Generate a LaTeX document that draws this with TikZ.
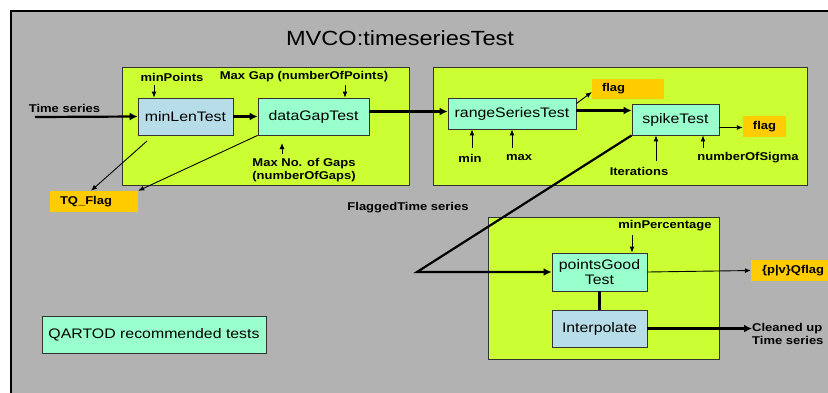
\documentclass[tikz,border=0pt]{standalone}
\usepackage{fontspec}
\setmainfont{Liberation Sans}[FakeStretch=1.15]
\usepackage{xcolor}
\usetikzlibrary{arrows.meta}
\definecolor{panelgray}{HTML}{B2B2B2}
\definecolor{limebox}{HTML}{CCFF33}
\definecolor{testgreen}{HTML}{99FFCC}
\definecolor{testblue}{HTML}{B7DEE8}
\definecolor{flagorange}{HTML}{FFCC00}

\begin{document}
\begin{tikzpicture}[x=1pt,y=-1pt,
    group/.style={draw=black!80,fill=limebox,line width=0.8pt},
    test/.style={draw=black!80,fill=testgreen,line width=0.8pt,inner sep=0pt,align=center,
        font=\fontsize{13.8}{15}\selectfont},
    prep/.style={test,fill=testblue},
    flagbox/.style={fill=flagorange,inner sep=0pt,font=\bfseries\fontsize{11.3}{13}\selectfont},
    lbl/.style={inner sep=0pt,align=center,font=\bfseries\fontsize{11.3}{13}\selectfont},
    arr/.style={-{Latex[length=6pt,width=5pt]},line width=0.9pt},
    flow/.style={-{Latex[length=8pt,width=8pt]},line width=2.2pt}]
        \useasboundingbox (0,0) rectangle (828,392);
        \draw[line width=2.5pt,fill=panelgray] (11,11) rectangle (845,405);

        \node[font=\fontsize{20.5}{24}\selectfont] (title) at (400,38) {MVCO:timeseriesTest};

        \draw[group] (122,67) rectangle (409,185);
        \draw[group] (433,67) rectangle (807,185);
        \draw[group] (488,217) rectangle (719,359);

        \node[prep,minimum width=95pt,minimum height=37pt] (minlen) at (185.5,116.5) {minLenTest};
        \node[test,minimum width=111pt,minimum height=37pt] (datagap) at (313.5,116.5) {dataGapTest};
        \node[test,minimum width=128pt,minimum height=31pt] (range) at (512,113.5) {rangeSeriesTest};
        \node[test,minimum width=87pt,minimum height=31pt] (spike) at (675.5,119.5) {spikeTest};
        \node[test,minimum width=95pt,minimum height=38pt] (pgood) at (599.5,272) {pointsGood\\Test};
        \node[prep,minimum width=95pt,minimum height=37pt] (interp) at (599.5,328.5) {Interpolate};
        \node[test,minimum width=224pt,minimum height=37pt] (qartod) at (154,334.5) {QARTOD recommended tests};

        \node[flagbox,minimum width=88pt,minimum height=21pt,text width=68pt] (tqflag) at (94,201.5) {TQ\_Flag};
        \node[flagbox,minimum width=72pt,minimum height=20pt,text width=52pt] (flag1) at (628,89) {flag};
        \node[flagbox,minimum width=43pt,minimum height=21pt] (flag2) at (764.5,126.5) {flag};
        \node[flagbox,minimum width=90pt,minimum height=21pt,text width=68pt] (pvflag) at (796,270.5) {\{p|v\}Qflag};

        \node[lbl] (tslbl) at (64.5,108) {Time series};
        \node[lbl] (minpts) at (172,77) {minPoints};
        \node[lbl] (maxgap) at (304,77) {Max Gap (numberOfPoints)};
        \node[lbl] (maxno) at (304,170.5) {Max No. of Gaps\\(numberOfGaps)};
        \node[lbl] (minlbl) at (470,158) {min};
        \node[lbl] (maxlbl) at (519,158) {max};
        \node[lbl] (iterlbl) at (639,171) {Iterations};
        \node[lbl] (sigmalbl) at (748,158) {numberOfSigma};
        \node[lbl] (flagged) at (408,208) {FlaggedTime series};
        \node[lbl] (minperc) at (665,226) {minPercentage};
        \node[lbl,align=left,anchor=west] (cleaned) at (752,333.5) {Cleaned up\\Time series};

        \coordinate (tsin) at (35,117);
        \coordinate (pminpts) at (154,85);
        \coordinate (pmaxgap) at (345,85);
        \coordinate (pmaxno) at (282,154);
        \coordinate (pmaxnotop) at (282,143);
        \coordinate (pmin) at (472,148);
        \coordinate (pmax) at (512,148);
        \coordinate (piter) at (656,161);
        \coordinate (psigma) at (703,148);
        \coordinate (pminperc) at (632,235);
        \coordinate (lenfail) at (147,141);
        \coordinate (bend) at (417,272);

        \draw[flow] (tsin) -- (minlen.west);
        \draw[flow] (minlen) -- (datagap);
        \draw[flow] ([yshift=2pt]datagap.east |- range.west) -- ([yshift=2pt]range.west);
        \draw[flow] ([yshift=3pt]range.east) -- ([yshift=3pt]range.east -| spike.west);
        \draw[arr] ([yshift=-6pt]range.north east) -- ([yshift=-3pt]flag1.west);
        \draw[arr] ([yshift=-8pt]spike.east) -- ([yshift=-8pt]spike.east -| flag2.west);

        \draw[arr] (pminpts) -- (pminpts |- minlen.north);
        \draw[arr] (pmaxgap) -- (pmaxgap |- datagap.north);
        \draw[arr] (pmaxno) -- (pmaxnotop);
        \draw[arr] (pmin) -- (pmin |- range.south);
        \draw[arr] (pmax) -- (pmax |- range.south);
        \draw[arr] (piter) -- (piter |- spike.south);
        \draw[arr] (psigma) -- (psigma |- spike.south);
        \draw[arr] (pminperc) -- (pminperc |- pgood.north);

        \draw[arr] (lenfail) -- ([xshift=-3pt]tqflag.north);
        \draw[arr] (datagap.south west) -- (tqflag.north east);

        \draw[flow] (spike.south west) -- (bend) -- (pgood.west); % flagged series
        \draw[arr] (pgood.east) -- (pvflag.west);
        \draw[line width=2.5pt] (pgood.south) -- (interp.north);
        \draw[flow] (interp.east) -- (interp.east -| cleaned.west);
    \end{tikzpicture}
\end{document}
